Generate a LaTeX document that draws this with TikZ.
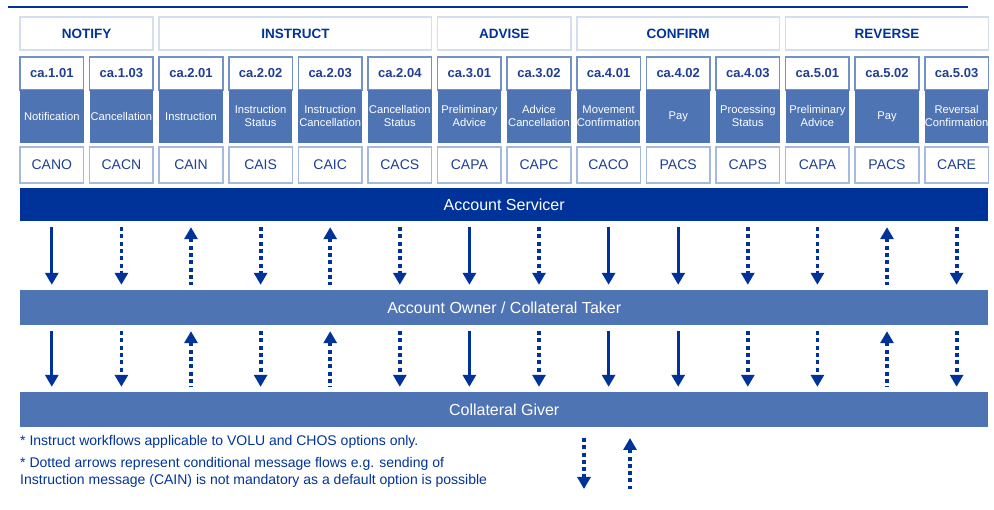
\documentclass[tikz,border=0pt]{standalone}
\usepackage{fontspec}
\setmainfont{Liberation Sans}
\usetikzlibrary{arrows.meta}
\hyphenpenalty=10000

\definecolor{dblue}{HTML}{003399}
\definecolor{mblue}{HTML}{4F74B4}
\definecolor{cblue}{HTML}{7391C9}
\definecolor{lblue}{HTML}{A6BADF}
\definecolor{hline}{HTML}{D5DEEE}
\definecolor{tblue}{HTML}{1F3F93}

\tikzset{
  hdr/.style={draw=hline, line width=1.5pt, fill=white, minimum height=33, inner sep=0,
    font=\fontsize{13.5}{15}\selectfont\bfseries, text=dblue},
  codebox/.style={draw=cblue, line width=1.5pt, fill=white, minimum width=63.6,
    minimum height=33, inner sep=0, font=\fontsize{13}{15}\selectfont\bfseries, text=tblue},
  labbox/.style={fill=mblue, minimum width=63.6, minimum height=53, inner sep=0,
    text width=63.6, align=center, text=white, font=\fontsize{11.2}{13}\selectfont},
  msgbox/.style={draw=lblue, line width=1.5pt, fill=white, minimum width=63.6,
    minimum height=36, inner sep=0, font=\fontsize{14}{16}\selectfont, text=tblue},
  bar/.style={fill=mblue, minimum width=968.4, minimum height=35, inner sep=0,
    font=\fontsize{16}{18}\selectfont, text=white},
  sdown/.style={dblue, line width=3.3pt, -{Triangle[width=13pt,length=12pt]},
    shorten <=6pt, shorten >=5pt},
  ddown/.style={sdown, line width=3.8pt, dash pattern=on 4pt off 3.3pt},
  dup/.style={ddown, {Triangle[width=13pt,length=12pt]}-},
  note/.style={anchor=west, inner sep=0, font=\fontsize{14}{16}\selectfont, text=dblue}
}

\begin{document}
\begin{tikzpicture}[x=1pt, y=-1pt]
  \useasboundingbox (0,0) rectangle (994,510);
  \draw[dblue, line width=2pt] (8,7) -- (968,7);

  % 分组标题
  \foreach \a/\b/\t in {1/2/NOTIFY, 3/6/INSTRUCT, 7/8/ADVISE, 9/11/CONFIRM, 12/14/REVERSE} {
    \pgfmathsetmacro{\hw}{(\b-\a)*69.6+63.6}
    \pgfmathsetmacro{\hx}{20+(\a-1)*69.6+\hw/2}
    \node[hdr, minimum width=\hw] (h\a) at (\hx,33.5) {\t};
  }

  % 每一列：编号、名称、报文
  \foreach \i/\code/\lab/\msg in {
      1/ca.1.01/Notification/CANO,
      2/ca.1.03/Cancellation/CACN,
      3/ca.2.01/Instruction/CAIN,
      4/ca.2.02/{Instruction Status}/CAIS,
      5/ca.2.03/{Instruction Cancellation}/CAIC,
      6/ca.2.04/{Cancellation Status}/CACS,
      7/ca.3.01/{Preliminary Advice}/CAPA,
      8/ca.3.02/{Advice Cancellation}/CAPC,
      9/ca.4.01/{Movement Confirmation}/CACO,
      10/ca.4.02/Pay/PACS,
      11/ca.4.03/{Processing Status}/CAPS,
      12/ca.5.01/{Preliminary Advice}/CAPA,
      13/ca.5.02/Pay/PACS,
      14/ca.5.03/{Reversal Confirmation}/CARE} {
    \pgfmathsetmacro{\cx}{51.8+(\i-1)*69.6}
    \node[codebox] (k\i) at (\cx,73.5) {\code};
    \node[labbox]  (l\i) at (\cx,116.5) {\lab};
    \node[msgbox]  (m\i) at (\cx,165) {\msg};
  }

  \node[bar, fill=dblue, minimum height=33] (AS) at (504.2,204.5) {Account Servicer};
  \node[bar] (AO) at (504.2,307.5) {Account Owner / Collateral Taker};
  \node[bar] (CG) at (504.2,409.5) {Collateral Giver};

  % 报文流向
  \foreach \i/\s in {1/sdown, 2/ddown, 3/dup, 4/ddown, 5/dup, 6/ddown, 7/sdown,
      8/ddown, 9/sdown, 10/sdown, 11/ddown, 12/ddown, 13/dup, 14/ddown} {
    \draw[\s] (AS.south -| m\i) -- (AO.north -| m\i);
    \draw[\s] (AO.south -| m\i) -- (CG.north -| m\i);
  }

  % 说明
  \node[note] (n1) at (20,442) {* Instruct workflows applicable to VOLU and CHOS options only.};
  \node[note] (n2) at (20,464) {* Dotted arrows represent conditional message flows e.g. sending of};
  \node[note] (n3) at (20,481) {Instruction message (CAIN) is not mandatory as a default option is possible};

  \coordinate (ld1) at (584,438);
  \coordinate (ld2) at (584,489);
  \coordinate (lu1) at (630,438);
  \coordinate (lu2) at (630,489);
  \draw[ddown, shorten <=0pt, shorten >=0pt] (ld1) -- (ld2);
  \draw[dup, shorten <=0pt, shorten >=0pt] (lu1) -- (lu2);
\end{tikzpicture}
\end{document}
